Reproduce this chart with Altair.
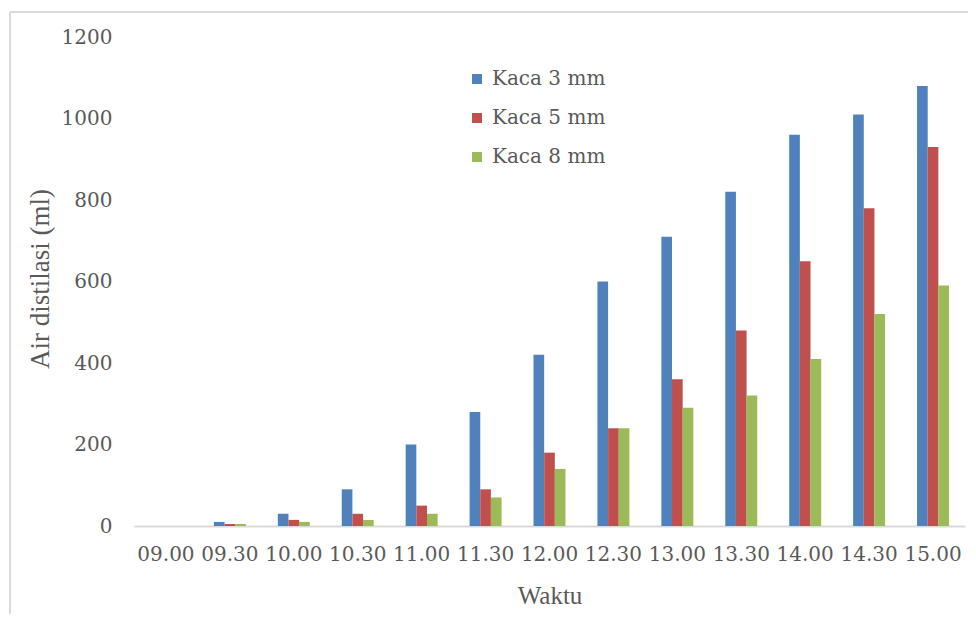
import altair as alt
import pandas as pd

waktu = ["09.00", "09.30", "10.00", "10.30", "11.00", "11.30", "12.00",
         "12.30", "13.00", "13.30", "14.00", "14.30", "15.00"]
series = ["Kaca 3 mm", "Kaca 5 mm", "Kaca 8 mm"]
kaca3 = [0, 10, 30, 90, 200, 280, 420, 600, 710, 820, 960, 1010, 1080]
kaca5 = [0, 5, 15, 30, 50, 90, 180, 240, 360, 480, 650, 780, 930]
kaca8 = [0, 5, 10, 15, 30, 70, 140, 240, 290, 320, 410, 520, 590]
colors = ["#4f81bd", "#c0504d", "#9bbb59"]

rows = []
for name, vals in zip(series, [kaca3, kaca5, kaca8]):
    for w, v in zip(waktu, vals):
        rows.append({"Waktu": w, "Seri": name, "Nilai": v})
df = pd.DataFrame(rows)

W, H = 831, 489

bars = alt.Chart(df).mark_bar().encode(
    x=alt.X("Waktu:N", sort=waktu,
            scale=alt.Scale(paddingInner=0.5, paddingOuter=0.25),
            axis=alt.Axis(title="Waktu", labelAngle=0, labelFont="DejaVu Serif",
                          labelFontSize=20, labelColor="#595959", labelPadding=18,
                          ticks=False, domainColor="#d9d9d9", domainWidth=2,
                          titleFont="Liberation Serif", titleFontSize=25,
                          titleFontWeight="normal", titleColor="#595959",
                          titleX=W / 2, titleY=69, titleBaseline="middle",
                          titleAlign="center")),
    xOffset=alt.XOffset("Seri:N", sort=series,
                        scale=alt.Scale(paddingInner=0, paddingOuter=0)),
    y=alt.Y("Nilai:Q", scale=alt.Scale(domain=[0, 1200], nice=False),
            axis=alt.Axis(title="Air distilasi (ml)", values=[0, 200, 400, 600, 800, 1000, 1200],
                          format="d",
                          grid=False, domain=False, ticks=False,
                          labelFont="DejaVu Serif", labelFontSize=20,
                          labelColor="#595959", labelPadding=22,
                          titleFont="Liberation Serif", titleFontSize=27,
                          titleFontWeight="normal", titleColor="#595959",
                          titleX=-94, titleY=H / 2 - 3, titleAngle=270,
                          titleAlign="center", titleBaseline="middle")),
    color=alt.Color("Seri:N", sort=series,
                    scale=alt.Scale(domain=series, range=colors),
                    legend=alt.Legend(title=None, orient="none", legendX=333, legendY=32,
                                      symbolType="square", symbolSize=100,
                                      symbolStrokeWidth=0,
                                      labelFont="DejaVu Serif", labelFontSize=20,
                                      labelColor="#595959", labelOffset=5,
                                      rowPadding=19, padding=0)),
)

frame_df = pd.DataFrame({"k": [0]})
left_line = alt.Chart(frame_df).mark_rule(color="#d9d9d9", strokeWidth=2).encode(
    x=alt.value(-124), y=alt.value(-25), y2=alt.value(H + 200))
top_line = alt.Chart(frame_df).mark_rule(color="#d9d9d9", strokeWidth=2).encode(
    x=alt.value(-124), x2=alt.value(W + 100), y=alt.value(-25))

chart = alt.layer(left_line, top_line, bars).properties(
    width=W, height=H,
    background="white",
    autosize=alt.AutoSizeParams(type="none"),
    padding={"left": 126, "top": 29, "right": 3, "bottom": 88},
).configure_view(stroke="transparent", strokeWidth=0).configure_legend(
    labelFont="DejaVu Serif")

chart.save("out.html", embed_options={"renderer": "svg", "actions": False})
